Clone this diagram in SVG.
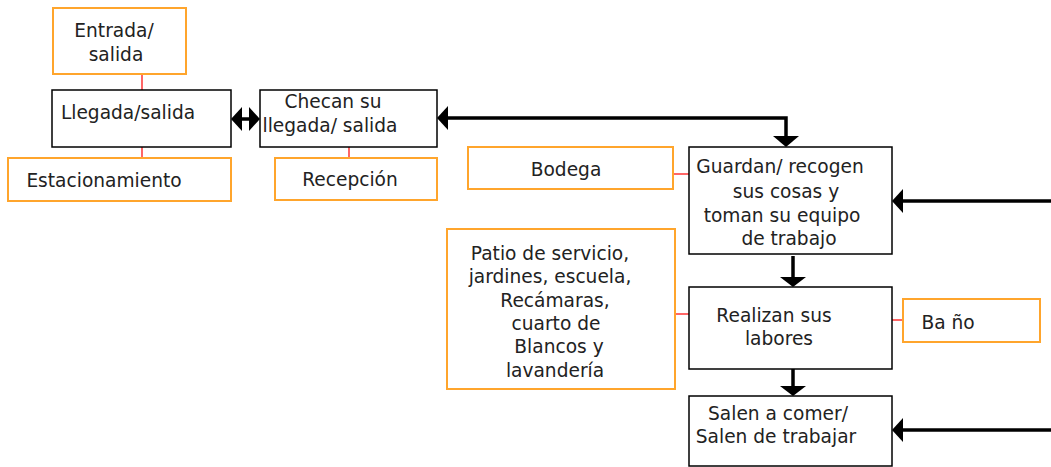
<svg xmlns="http://www.w3.org/2000/svg" width="1051" height="467" viewBox="0 0 1051 467">
<style>
.b{fill:#fff;stroke:#000;stroke-width:1.5}
.o{fill:#fff;stroke:#FFA52C;stroke-width:2}
.r{stroke:#FF0000;stroke-width:1.2;fill:none}
.c{stroke:#000;stroke-width:3.5;fill:none}
.h{fill:#000}
text{font-family:"DejaVu Sans","Liberation Sans",sans-serif;font-size:18.6px;fill:#222;text-anchor:middle}
</style>
<rect width="1051" height="467" fill="#fff"/>
<g id="connectors">
<line class="r" x1="142" y1="75" x2="142" y2="90"/>
<line class="r" x1="142" y1="147" x2="142" y2="158"/>
<line class="r" x1="349" y1="147" x2="349" y2="158"/>
<line class="r" x1="673" y1="174" x2="689" y2="174"/>
<line class="r" x1="675" y1="314" x2="689" y2="314"/>
<line class="r" x1="888" y1="320" x2="903" y2="320"/>
<line class="c" x1="240" y1="119" x2="251" y2="119"/>
<polygon class="h" points="231,119 242,107 242,131"/>
<polygon class="h" points="260,119 249,107 249,131"/>
<polyline class="c" points="447,118 786,118 786,138"/>
<polygon class="h" points="437,118 448,106 448,130"/>
<polygon class="h" points="786,147 773,136 799,136"/>
<line class="c" x1="793" y1="256" x2="793" y2="278"/>
<polygon class="h" points="793,287 780,277 806,277"/>
<line class="c" x1="793" y1="369" x2="793" y2="387"/>
<polygon class="h" points="793,396 780,386 806,386"/>
<line class="c" x1="902" y1="201" x2="1051" y2="201"/>
<polygon class="h" points="892,201 903,189 903,213"/>
<line class="c" x1="902" y1="430" x2="1051" y2="430"/>
<polygon class="h" points="892,430 903,418 903,442"/>
</g>
<g id="entrada"><rect class="o" x="53" y="8" width="133" height="66"/><text x="114" y="37">Entrada/</text><text x="116" y="61">salida</text></g>
<g id="llegada"><rect class="b" x="52" y="90" width="179" height="57"/><text x="128" y="119">Llegada/salida</text></g>
<g id="estacionamiento"><rect class="o" x="8" y="158" width="223" height="43"/><text x="104" y="187">Estacionamiento</text></g>
<g id="checan"><rect class="b" x="260" y="90" width="177" height="57"/><text x="333" y="108">Checan su</text><text x="330" y="132">llegada/ salida</text></g>
<g id="recepcion"><rect class="o" x="275" y="158" width="162" height="42"/><text x="350" y="186">Recepción</text></g>
<g id="bodega"><rect class="o" x="468" y="147" width="205" height="42"/><text x="566" y="176">Bodega</text></g>
<g id="guardan"><rect class="b" x="689" y="147" width="203" height="107"/><text x="780" y="173">Guardan/ recogen</text><text x="786" y="198">sus cosas y</text><text x="782" y="222">toman su equipo</text><text x="789" y="245">de trabajo</text></g>
<g id="patio"><rect class="o" x="447" y="229" width="228" height="160"/><text x="550" y="260">Patio de servicio,</text><text x="550" y="283">jardines, escuela,</text><text x="555" y="307">Recámaras,</text><text x="556" y="330">cuarto de</text><text x="559" y="353">Blancos y</text><text x="555" y="377">lavandería</text></g>
<g id="realizan"><rect class="b" x="689" y="287" width="203" height="82"/><text x="774" y="322">Realizan sus</text><text x="779" y="345">labores</text></g>
<g id="bano"><rect class="o" x="903" y="299" width="137" height="43"/><text x="948" y="329">Ba ño</text></g>
<g id="salen"><rect class="b" x="689" y="396" width="203" height="70"/><text x="778" y="420">Salen a comer/</text><text x="776" y="443">Salen de trabajar</text></g>
</svg>
